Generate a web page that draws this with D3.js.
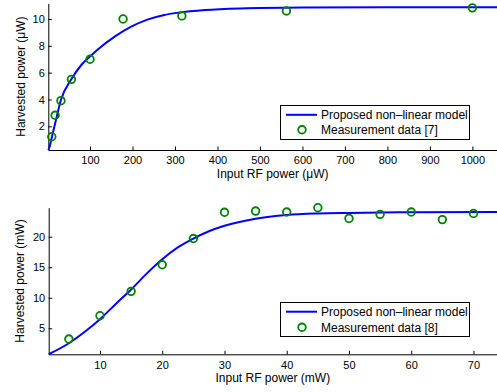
<!DOCTYPE html>
<html><head><meta charset="utf-8">
<script src="https://cdn.jsdelivr.net/npm/d3@7"></script>
<style>
html,body{margin:0;padding:0;background:#fff;}
svg{display:block;font-family:"Liberation Sans",Arial,Helvetica,sans-serif;}
</style></head>
<body>
<svg id="c" width="497" height="392"></svg>
<script>
// ---------- Top panel data (input in µW, output in µW) ----------
const topMeasX = [10, 17.8, 31.6, 56.2, 100, 177.8, 316.2, 562.3, 1000];
const topMeasY = [1.22, 2.82, 3.91, 5.5, 7.0, 10.0, 10.23, 10.6, 10.83];
const topModelX = [1.8, 4.9, 10.4, 22.2, 30.9, 56, 79.5, 99.3, 119, 158, 197, 235, 275, 308, 371, 454, 600, 800, 1060];
const topModelY = [0.23, 0.48, 1.22, 2.79, 3.91, 5.5, 6.57, 7.19, 7.75, 8.69, 9.43, 9.95, 10.3, 10.47, 10.67, 10.79, 10.86, 10.88, 10.88];
const topXTicks = [100, 200, 300, 400, 500, 600, 700, 800, 900, 1000];
const topYTicks = [2, 4, 6, 8, 10];

// ---------- Bottom panel data (input in mW, output in mW) ----------
const botMeasX = [5, 10, 15, 20, 25, 30, 35, 40, 45, 50, 55, 60, 65, 70];
const botMeasY = [3.24, 7.06, 11.05, 15.4, 19.7, 24.0, 24.2, 24.04, 24.75, 23.0, 23.66, 24.04, 22.8, 23.8];
const botModelX = [1.76, 5, 7.5, 10, 12.5, 15, 17.5, 20, 22.5, 25, 27.5, 30, 35, 40, 45, 50, 60, 74];
const botModelY = [0.75, 2.55, 4.4, 6.5, 8.95, 11.35, 13.95, 16.3, 18.25, 19.7, 20.9, 21.8, 22.95, 23.55, 23.8, 23.9, 24.0, 24.05];
const botXTicks = [10, 20, 30, 40, 50, 60, 70];
const botYTicks = [5, 10, 15, 20];

const legendLabels = ["Proposed non\u2013linear model"];
const topMeasLabel = "Measurement data [7]";
const botMeasLabel = "Measurement data [8]";

const svg = d3.select("#c");

function panel(cfg){
  const g = svg.append("g");
  const x = d3.scaleLinear().domain(cfg.xDom).range([cfg.left, cfg.right]);
  const y = d3.scaleLinear().domain(cfg.yDom).range([cfg.bottom, cfg.top]);

  const xa = g.append("g").attr("transform", `translate(0,${cfg.bottom})`)
    .call(d3.axisBottom(x).tickValues(cfg.xTicks).tickFormat(d3.format("d"))
      .tickSizeInner(-3.5).tickSizeOuter(0).tickPadding(6.5));
  const ya = g.append("g").attr("transform", `translate(${cfg.left},0)`)
    .call(d3.axisLeft(y).tickValues(cfg.yTicks).tickFormat(d3.format("d"))
      .tickSizeInner(-3.5).tickSizeOuter(0).tickPadding(3.5));
  [xa, ya].forEach(a => {
    a.selectAll("text").attr("font-size", 11).attr("fill", "#000")
      .attr("font-family", '"Liberation Sans",Arial,sans-serif');
    a.selectAll("line").attr("stroke", "#000");
    a.select(".domain").attr("stroke", "#000");
  });

  const pts = cfg.modelX.map((d, i) => [d, cfg.modelY[i]]);
  g.append("path").datum(pts)
    .attr("fill", "none").attr("stroke", "#0000ff").attr("stroke-width", 2)
    .attr("d", d3.line().x(d => x(d[0])).y(d => y(d[1])).curve(d3.curveMonotoneX));

  g.selectAll("circle.m").data(cfg.measX.map((d, i) => [d, cfg.measY[i]])).enter()
    .append("circle").attr("class", "m")
    .attr("cx", d => x(d[0])).attr("cy", d => y(d[1])).attr("r", 3.8)
    .attr("fill", "none").attr("stroke", "#008000").attr("stroke-width", 1.8);

  // axis labels
  g.append("text").attr("x", (cfg.left + cfg.right) / 2).attr("y", cfg.xLabelY)
    .attr("dy", "0.35em").attr("text-anchor", "middle").attr("font-size", 12)
    .text(cfg.xLabel);
  g.append("text").attr("transform", `translate(${cfg.yLabelX},${(cfg.top + cfg.bottom) / 2}) rotate(-90)`)
    .attr("dy", "0.35em").attr("text-anchor", "middle").attr("font-size", 12)
    .text(cfg.yLabel);

  // legend
  const L = cfg.legend;
  g.append("rect").attr("x", L.x0).attr("y", L.y0).attr("width", L.x1 - L.x0).attr("height", L.y1 - L.y0)
    .attr("fill", "#fff").attr("stroke", "#000").attr("stroke-width", 1);
  g.append("line").attr("x1", L.x0 + 5.5).attr("x2", L.x0 + 36.5).attr("y1", L.r1).attr("y2", L.r1)
    .attr("stroke", "#0000ff").attr("stroke-width", 2);
  g.append("circle").attr("cx", L.x0 + 21.5).attr("cy", L.r2).attr("r", 3.8)
    .attr("fill", "none").attr("stroke", "#008000").attr("stroke-width", 1.8);
  g.append("text").attr("x", L.x0 + 40.5).attr("y", L.r1).attr("dy", "0.35em").attr("font-size", 12)
    .text(legendLabels[0]);
  g.append("text").attr("x", L.x0 + 40.5).attr("y", L.r2).attr("dy", "0.35em").attr("font-size", 12)
    .text(cfg.measLabel);
}

panel({
  left: 48.3, right: 497, top: 3.3, bottom: 150,
  xDom: [1.8, 1058], yDom: [0.233, 11.17],
  xTicks: topXTicks, yTicks: topYTicks,
  modelX: topModelX, modelY: topModelY, measX: topMeasX, measY: topMeasY,
  xLabel: "Input RF power (\u03bcW)", yLabel: "Harvested power (\u03bcW)",
  xLabelY: 173.5, yLabelX: 20.5,
  measLabel: topMeasLabel,
  legend: {x0: 280.5, x1: 469.5, y0: 105.5, y1: 139.5, r1: 114.8, r2: 129.8}
});

panel({
  left: 48.7, right: 497, top: 207.7, bottom: 354.3,
  xDom: [1.76, 73.78], yDom: [0.74, 24.75],
  xTicks: botXTicks, yTicks: botYTicks,
  modelX: botModelX, modelY: botModelY, measX: botMeasX, measY: botMeasY,
  xLabel: "Input RF power (mW)", yLabel: "Harvested power (mW)",
  xLabelY: 378, yLabelX: 19.5,
  measLabel: botMeasLabel,
  legend: {x0: 280.5, x1: 469.5, y0: 302.5, y1: 336.5, r1: 311.7, r2: 327.3}
});
</script>
</body></html>
